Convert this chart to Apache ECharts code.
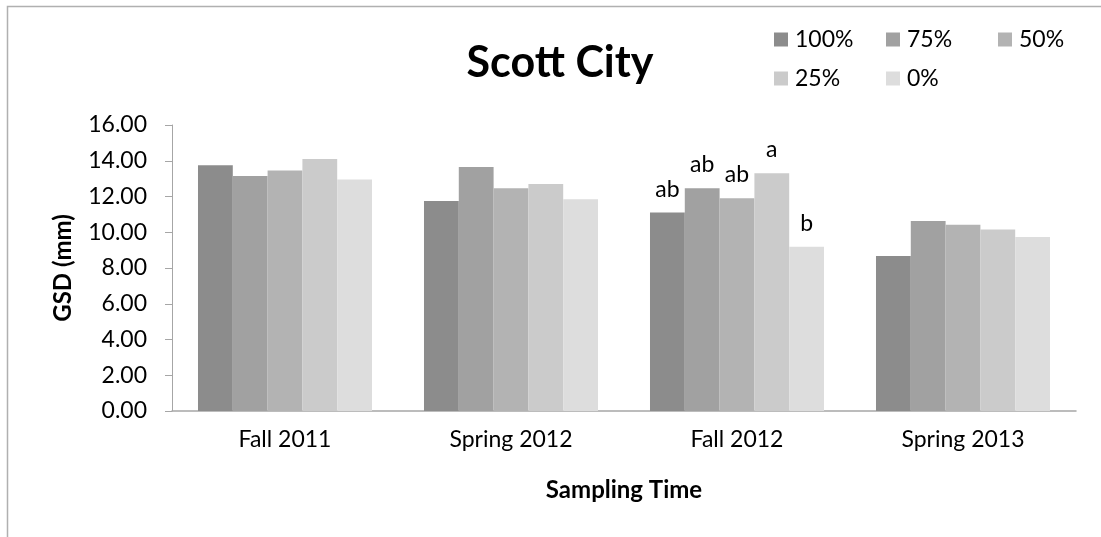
<!DOCTYPE html>
<html>
<head>
<meta charset="utf-8">
<script src="https://cdn.jsdelivr.net/npm/echarts@6/dist/echarts.min.js"></script>
<style>
  html, body { margin: 0; padding: 0; background: #fff; }
  #main { width: 1101px; height: 537px; }
</style>
</head>
<body>
<div id="main"></div>
<script>
// sampling times and the five treatment levels
var categories = ["Fall 2011", "Spring 2012", "Fall 2012", "Spring 2013"];
var seriesNames = ["100%", "75%", "50%", "25%", "0%"];
var yTicks = [0, 2, 4, 6, 8, 10, 12, 14, 16];

// GSD (mm) values
var gsd100 = [13.75, 11.75, 11.10, 8.67];
var gsd75 = [13.15, 13.65, 12.46, 10.63];
var gsd50 = [13.45, 12.46, 11.90, 10.42];
var gsd25 = [14.10, 12.70, 13.30, 10.16];
var gsd0 = [12.95, 11.84, 9.19, 9.73];

// significance letters (only Fall 2012 has them)
var letters100 = ["", "", "ab", ""];
var letters75 = ["", "", "ab", ""];
var letters50 = ["", "", "ab", ""];
var letters25 = ["", "", "a", ""];
var letters0 = ["", "", "b", ""];

var colors = ["#8c8c8c", "#a1a1a1", "#b3b3b3", "#cbcbcb", "#dddddd"];
var allData = [gsd100, gsd75, gsd50, gsd25, gsd0];
var allLetters = [letters100, letters75, letters50, letters25, letters0];

var font = "Lato, 'Open Sans', sans-serif";

var myChart = echarts.init(document.getElementById("main"));

var series = [];
for (var i = 0; i < seriesNames.length; i++) {
  (function (i) {
    series.push({
      name: seriesNames[i],
      type: "bar",
      barGap: "0%",
      barCategoryGap: "23%",
      itemStyle: {
        color: colors[i],
      },
      label: {
        show: true,
        position: "top",
        distance: 12,
        color: "#000",
        fontFamily: font,
        fontSize: 23,
        formatter: function (p) {
          return allLetters[i][p.dataIndex];
        },
      },
      emphasis: { disabled: true },
      data: allData[i],
    });
  })(i);
}

// legend laid out like excel: 3 per row, fixed columns
var legendLeft = [774, 886, 998, 774, 886];
var legendTop = [28, 28, 28, 67, 67];
var legends = [];
for (var j = 0; j < seriesNames.length; j++) {
  legends.push({
    data: [seriesNames[j]],
    left: legendLeft[j],
    top: legendTop[j],
    padding: 0,
    icon: "rect",
    itemWidth: 14,
    itemHeight: 14,
    selectedMode: false,
    textStyle: {
      fontFamily: font,
      fontSize: 23,
      color: "#000",
      padding: [0, 0, 0, 2],
    },
  });
}

var option = {
  animation: false,
  title: {
    text: "Scott City",
    left: 555,
    top: 37,
    textAlign: "center",
    textStyle: {
      fontFamily: font,
      fontSize: 43,
      fontWeight: "bold",
      color: "#000",
    },
  },
  legend: legends,
  grid: {
    left: 172,
    right: 25,
    top: 125,
    bottom: 126,
  },
  xAxis: {
    type: "category",
    data: categories,
    name: "Sampling Time",
    nameLocation: "middle",
    nameGap: 67,
    nameTextStyle: {
      fontFamily: font,
      fontSize: 24,
      fontWeight: "bold",
      color: "#000",
    },
    axisLine: {
      lineStyle: { color: "#a6a6a6", width: 1.5 },
    },
    axisTick: { show: false },
    axisLabel: {
      margin: 17,
      fontFamily: font,
      fontSize: 23,
      color: "#000",
    },
  },
  yAxis: {
    type: "value",
    min: yTicks[0],
    max: yTicks[yTicks.length - 1],
    interval: 2,
    name: "GSD (mm)",
    nameLocation: "middle",
    nameGap: 97,
    nameTextStyle: {
      fontFamily: font,
      fontSize: 24,
      fontWeight: "bold",
      color: "#000",
    },
    axisLine: {
      show: true,
      lineStyle: { color: "#a6a6a6", width: 1 },
    },
    axisTick: {
      show: true,
      length: 7,
      lineStyle: { color: "#a6a6a6" },
    },
    splitLine: { show: false },
    axisLabel: {
      margin: 25,
      fontFamily: font,
      fontSize: 23,
      color: "#000",
      formatter: function (v) {
        return v.toFixed(2);
      },
    },
  },
  graphic: [
    {
      type: "rect",
      left: 5,
      top: 4,
      shape: { width: 1200, height: 700 },
      style: { fill: "none", stroke: "#b0b0b0", lineWidth: 1.5 },
      silent: true,
    },
  ],
  series: series,
};
myChart.setOption(option);
</script>
</body>
</html>
